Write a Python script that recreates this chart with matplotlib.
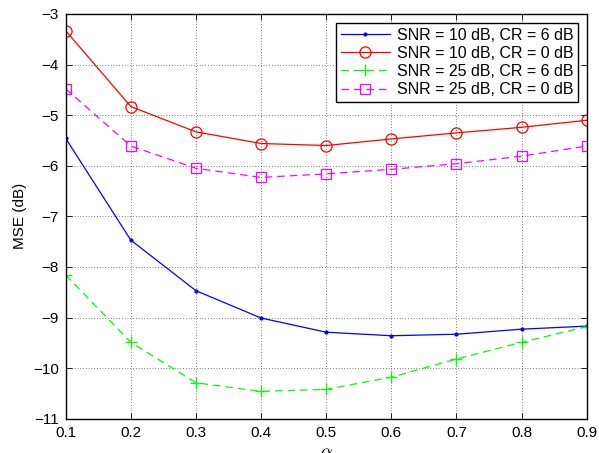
import matplotlib
matplotlib.use('Agg')
import matplotlib.pyplot as plt

plt.rcParams['font.family'] = ['Liberation Sans', 'DejaVu Sans']
plt.rcParams['mathtext.fontset'] = 'cm'

alpha = [0.1, 0.2, 0.3, 0.4, 0.5, 0.6, 0.7, 0.8, 0.9]
mse_10_6 = [-5.46, -7.47, -8.47, -9.01, -9.29, -9.36, -9.33, -9.23, -9.17]
mse_10_0 = [-3.33, -4.83, -5.33, -5.56, -5.60, -5.47, -5.35, -5.24, -5.10]
mse_25_6 = [-8.16, -9.49, -10.29, -10.46, -10.42, -10.18, -9.82, -9.49, -9.18]
mse_25_0 = [-4.48, -5.61, -6.05, -6.23, -6.16, -6.07, -5.96, -5.81, -5.61]

labels = ['SNR = 10 dB, CR = 6 dB', 'SNR = 10 dB, CR = 0 dB',
          'SNR = 25 dB, CR = 6 dB', 'SNR = 25 dB, CR = 0 dB']
xticks = [0.1, 0.2, 0.3, 0.4, 0.5, 0.6, 0.7, 0.8, 0.9]
yticks = [-11, -10, -9, -8, -7, -6, -5, -4, -3]

fig = plt.figure(figsize=(5.99, 4.53), dpi=100)
ax = fig.add_axes([0.1097, 0.0757, 0.8698, 0.8934])

ax.plot(alpha, mse_10_6, color='#0000ff', lw=0.9, marker='.', ms=4, label=labels[0])
ax.plot(alpha, mse_10_0, color='#ff0000', lw=0.9, marker='o', ms=8, mfc='none',
        mew=0.9, label=labels[1])
ax.plot(alpha, mse_25_6, color='#00ff00', lw=0.9, ls=(0, (6, 4)), marker='+', ms=9,
        mew=0.9, label=labels[2])
ax.plot(alpha, mse_25_0, color='#ff00ff', lw=0.9, ls=(0, (6, 4)), marker='s', ms=7,
        mfc='none', mew=0.9, label=labels[3])

ax.set_xlim(0.1, 0.9)
ax.set_ylim(-11, -3)
ax.set_xticks(xticks)
ax.set_yticks(yticks)
ax.set_xticklabels([f'{t:g}' for t in xticks])
ax.set_yticklabels([f'\u2212{abs(t)}' for t in yticks])
ax.tick_params(direction='in', top=True, right=True, length=4, width=0.6,
               labelsize=11, pad=5)
ax.grid(True, color='black', ls=(0, (1, 3)), lw=0.5)
for s in ax.spines.values():
    s.set_linewidth(1.0)

ax.set_ylabel('MSE (dB)', fontsize=11, labelpad=4)
ax.set_xlabel(r'$\alpha$', fontsize=13, labelpad=3)

leg = ax.legend(loc='upper right', fontsize=11.5, frameon=True, fancybox=False,
                edgecolor='black', framealpha=1, borderpad=0.3, labelspacing=0.2,
                handlelength=3.1, handletextpad=0.4, borderaxespad=0.55)
leg.get_frame().set_linewidth(1.0)

fig.savefig('out.png', dpi=100)
